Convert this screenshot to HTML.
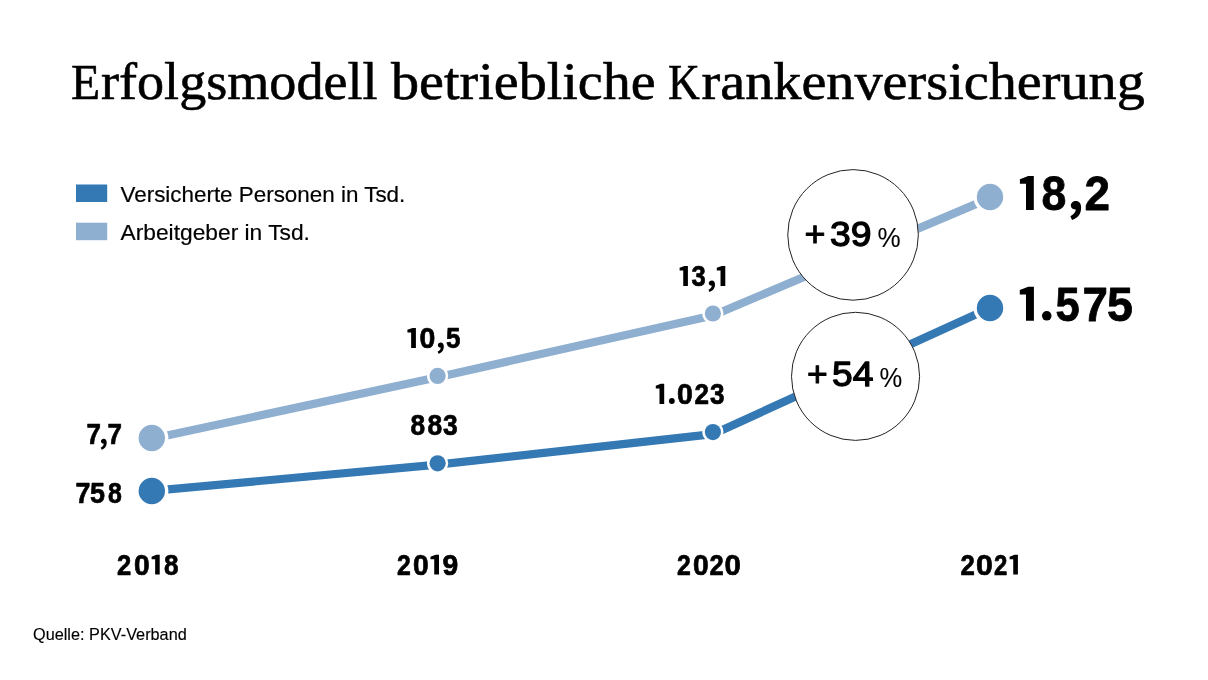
<!DOCTYPE html>
<html><head><meta charset="utf-8"><style>
html,body{margin:0;padding:0;background:#fff;}
body{width:1208px;height:680px;overflow:hidden;}
svg{display:block;will-change:transform;}
</style></head><body>
<svg width="1208" height="680" viewBox="0 0 1208 680">
<rect width="1208" height="680" fill="#fff"/>
<rect x="76" y="184.5" width="31.2" height="17.5" fill="#3579b4"/>
<rect x="76" y="222.7" width="31.2" height="17.5" fill="#8eafd0"/>
<polyline points="151.8,438.8 437.6,377.2 712.9,315.5 990,198.1" fill="none" stroke="#8eafd0" stroke-width="8.2" stroke-linejoin="round"/>
<polyline points="151.8,490.9 437.6,464.6 712.9,434.2 990,308.1" fill="none" stroke="#3579b4" stroke-width="8.2" stroke-linejoin="round"/>
<circle cx="151.8" cy="438" r="16.599999999999998" fill="#fff"/>
<circle cx="151.8" cy="438" r="13.2" fill="#8eafd0"/>
<circle cx="437.6" cy="375.9" r="10.6" fill="#fff"/>
<circle cx="437.6" cy="375.9" r="8.1" fill="#8eafd0"/>
<circle cx="712.9" cy="313.5" r="10.6" fill="#fff"/>
<circle cx="712.9" cy="313.5" r="8.1" fill="#8eafd0"/>
<circle cx="990" cy="197" r="16.599999999999998" fill="#fff"/>
<circle cx="990" cy="197" r="13.2" fill="#8eafd0"/>
<circle cx="151.8" cy="491" r="16.599999999999998" fill="#fff"/>
<circle cx="151.8" cy="491" r="13.2" fill="#3579b4"/>
<circle cx="437.6" cy="463.3" r="10.6" fill="#fff"/>
<circle cx="437.6" cy="463.3" r="8.1" fill="#3579b4"/>
<circle cx="712.9" cy="432.1" r="10.6" fill="#fff"/>
<circle cx="712.9" cy="432.1" r="8.1" fill="#3579b4"/>
<circle cx="990" cy="308" r="16.599999999999998" fill="#fff"/>
<circle cx="990" cy="308" r="13.2" fill="#3579b4"/>
<circle cx="853.05" cy="234.9" r="65.3" fill="#fff" stroke="#222" stroke-width="1"/>
<circle cx="855.55" cy="376.35" r="64.05" fill="#fff" stroke="#222" stroke-width="1"/>
<path d="M411.13,347.90 L415.90,347.90 L415.90,327.90 L412.48,327.90 L407.40,329.79 L407.40,332.46 L411.13,332.46 Z" fill="#000"/>
<path d="M683.24,285.90 L687.90,285.90 L687.90,265.90 L684.56,265.90 L679.60,267.79 L679.60,270.46 L683.24,270.46 Z" fill="#000"/>
<path d="M720.53,285.90 L725.30,285.90 L725.30,265.90 L721.88,265.90 L716.80,267.79 L716.80,270.46 L720.53,270.46 Z" fill="#000"/>
<path d="M659.49,403.90 L664.20,403.90 L664.20,383.80 L660.82,383.80 L655.80,385.70 L655.80,388.38 L659.49,388.38 Z" fill="#000"/>
<path d="M1026.00,210.00 L1033.80,210.00 L1033.80,175.90 L1028.20,175.90 L1019.90,179.13 L1019.90,183.67 L1026.00,183.67 Z" fill="#000"/>
<path d="M1025.99,320.80 L1033.90,320.80 L1033.90,286.80 L1028.22,286.80 L1019.80,290.02 L1019.80,294.55 L1025.99,294.55 Z" fill="#000"/>
<path d="M155.15,574.60 L159.70,574.60 L159.70,554.80 L156.44,554.80 L151.60,556.67 L151.60,559.31 L155.15,559.31 Z" fill="#000"/>
<path d="M434.23,574.60 L439.00,574.60 L439.00,554.80 L435.58,554.80 L430.50,556.67 L430.50,559.31 L434.23,559.31 Z" fill="#000"/>
<path d="M1013.24,574.60 L1017.90,574.60 L1017.90,554.80 L1014.56,554.80 L1009.60,556.67 L1009.60,559.31 L1013.24,559.31 Z" fill="#000"/>
<path d="M103.82,438.70 C105.50,438.70 106.70,440.03 106.70,442.58 C106.70,445.58 105.50,448.47 101.60,449.80 L100.70,447.58 C102.50,446.69 103.58,445.36 103.76,443.69 C102.20,443.69 100.94,442.92 100.94,441.36 C100.94,439.81 102.20,438.70 103.82,438.70 Z" fill="#000"/>
<path d="M440.82,342.60 C442.56,342.60 443.80,343.94 443.80,346.52 C443.80,349.54 442.56,352.46 438.53,353.80 L437.60,351.56 C439.46,350.66 440.58,349.32 440.76,347.64 C439.15,347.64 437.85,346.86 437.85,345.29 C437.85,343.72 439.15,342.60 440.82,342.60 Z" fill="#000"/>
<path d="M711.88,280.60 C713.70,280.60 715.00,281.97 715.00,284.59 C715.00,287.67 713.70,290.63 709.48,292.00 L708.50,289.72 C710.45,288.81 711.62,287.44 711.82,285.73 C710.12,285.73 708.76,284.93 708.76,283.34 C708.76,281.74 710.12,280.60 711.88,280.60 Z" fill="#000"/>
<path d="M1075.96,201.10 C1078.96,201.10 1081.10,203.36 1081.10,207.68 C1081.10,212.76 1078.96,217.64 1072.01,219.90 L1070.40,216.14 C1073.61,214.64 1075.54,212.38 1075.86,209.56 C1073.08,209.56 1070.83,208.24 1070.83,205.61 C1070.83,202.98 1073.08,201.10 1075.96,201.10 Z" fill="#000"/>
<circle cx="671.85" cy="401.0" r="2.9" fill="#000"/>
<circle cx="1046.75" cy="315.8" r="4.8" fill="#000"/>
<text x="71.00" y="99" font-family='"Liberation Serif",serif' font-weight="normal" font-size="50.5" fill="#000" textLength="29.13" lengthAdjust="spacingAndGlyphs" stroke="#000" stroke-width="0.6" stroke-linejoin="round">E</text>
<text x="101.00" y="99" font-family='"Liberation Serif",serif' font-weight="normal" font-size="53.3" fill="#000" textLength="276.60" lengthAdjust="spacingAndGlyphs" stroke="#000" stroke-width="0.6" stroke-linejoin="round">rfolgsmodell</text>
<text x="391.00" y="99" font-family='"Liberation Serif",serif' font-weight="normal" font-size="53.3" fill="#000" textLength="264.63" lengthAdjust="spacingAndGlyphs" stroke="#000" stroke-width="0.6" stroke-linejoin="round">betriebliche</text>
<text x="668.00" y="99" font-family='"Liberation Serif",serif' font-weight="normal" font-size="50.5" fill="#000" textLength="31.87" lengthAdjust="spacingAndGlyphs" stroke="#000" stroke-width="0.6" stroke-linejoin="round">K</text>
<text x="701.50" y="99" font-family='"Liberation Serif",serif' font-weight="normal" font-size="53.3" fill="#000" textLength="443.34" lengthAdjust="spacingAndGlyphs" stroke="#000" stroke-width="0.6" stroke-linejoin="round">rankenversicherung</text>
<text x="120.50" y="201.8" font-family='"Liberation Sans",sans-serif' font-weight="normal" font-size="22.5" fill="#000" textLength="284.79" lengthAdjust="spacingAndGlyphs" stroke="#000" stroke-width="0.2" stroke-linejoin="round">Versicherte Personen in Tsd.</text>
<text x="120.50" y="239.8" font-family='"Liberation Sans",sans-serif' font-weight="normal" font-size="22.5" fill="#000" textLength="189.43" lengthAdjust="spacingAndGlyphs" stroke="#000" stroke-width="0.2" stroke-linejoin="round">Arbeitgeber in Tsd.</text>
<text x="86.50" y="444.0" font-family='"Liberation Sans",sans-serif' font-weight="bold" font-size="29.2" fill="#000" textLength="14.43" lengthAdjust="spacingAndGlyphs" stroke="#000" stroke-width="0.7" stroke-linejoin="round">7</text>
<text x="107.50" y="444.0" font-family='"Liberation Sans",sans-serif' font-weight="bold" font-size="29.2" fill="#000" textLength="14.43" lengthAdjust="spacingAndGlyphs" stroke="#000" stroke-width="0.7" stroke-linejoin="round">7</text>
<text x="75.50" y="502.8" font-family='"Liberation Sans",sans-serif' font-weight="bold" font-size="29.2" fill="#000" textLength="14.88" lengthAdjust="spacingAndGlyphs" stroke="#000" stroke-width="0.7" stroke-linejoin="round">7</text>
<text x="90.00" y="502.8" font-family='"Liberation Sans",sans-serif' font-weight="bold" font-size="29.2" fill="#000" textLength="14.96" lengthAdjust="spacingAndGlyphs" stroke="#000" stroke-width="0.7" stroke-linejoin="round">5</text>
<text x="108.00" y="502.8" font-family='"Liberation Sans",sans-serif' font-weight="bold" font-size="29.2" fill="#000" textLength="13.83" lengthAdjust="spacingAndGlyphs" stroke="#000" stroke-width="0.7" stroke-linejoin="round">8</text>
<text x="410.50" y="435.4" font-family='"Liberation Sans",sans-serif' font-weight="bold" font-size="29.2" fill="#000" textLength="14.62" lengthAdjust="spacingAndGlyphs" stroke="#000" stroke-width="0.7" stroke-linejoin="round">8</text>
<text x="427.50" y="435.4" font-family='"Liberation Sans",sans-serif' font-weight="bold" font-size="29.2" fill="#000" textLength="14.67" lengthAdjust="spacingAndGlyphs" stroke="#000" stroke-width="0.7" stroke-linejoin="round">8</text>
<text x="443.00" y="435.4" font-family='"Liberation Sans",sans-serif' font-weight="bold" font-size="29.2" fill="#000" textLength="14.72" lengthAdjust="spacingAndGlyphs" stroke="#000" stroke-width="0.7" stroke-linejoin="round">3</text>
<text x="677.00" y="574.5" font-family='"Liberation Sans",sans-serif' font-weight="bold" font-size="29" fill="#000" textLength="13.81" lengthAdjust="spacingAndGlyphs" stroke="#000" stroke-width="0.7" stroke-linejoin="round">2</text>
<text x="693.00" y="574.5" font-family='"Liberation Sans",sans-serif' font-weight="bold" font-size="29" fill="#000" textLength="15.71" lengthAdjust="spacingAndGlyphs" stroke="#000" stroke-width="0.7" stroke-linejoin="round">0</text>
<text x="709.50" y="574.5" font-family='"Liberation Sans",sans-serif' font-weight="bold" font-size="29" fill="#000" textLength="14.23" lengthAdjust="spacingAndGlyphs" stroke="#000" stroke-width="0.7" stroke-linejoin="round">2</text>
<text x="724.50" y="574.5" font-family='"Liberation Sans",sans-serif' font-weight="bold" font-size="29" fill="#000" textLength="16.39" lengthAdjust="spacingAndGlyphs" stroke="#000" stroke-width="0.7" stroke-linejoin="round">0</text>
<text x="419.50" y="347.9" font-family='"Liberation Sans",sans-serif' font-weight="bold" font-size="29.2" fill="#000" textLength="15.83" lengthAdjust="spacingAndGlyphs" stroke="#000" stroke-width="0.7" stroke-linejoin="round">0</text>
<text x="446.00" y="347.9" font-family='"Liberation Sans",sans-serif' font-weight="bold" font-size="29.2" fill="#000" textLength="14.45" lengthAdjust="spacingAndGlyphs" stroke="#000" stroke-width="0.7" stroke-linejoin="round">5</text>
<text x="691.50" y="285.9" font-family='"Liberation Sans",sans-serif' font-weight="bold" font-size="29.2" fill="#000" textLength="14.24" lengthAdjust="spacingAndGlyphs" stroke="#000" stroke-width="0.7" stroke-linejoin="round">3</text>
<text x="677.00" y="403.9" font-family='"Liberation Sans",sans-serif' font-weight="bold" font-size="29.2" fill="#000" textLength="15.83" lengthAdjust="spacingAndGlyphs" stroke="#000" stroke-width="0.7" stroke-linejoin="round">0</text>
<text x="694.50" y="403.9" font-family='"Liberation Sans",sans-serif' font-weight="bold" font-size="29.2" fill="#000" textLength="14.51" lengthAdjust="spacingAndGlyphs" stroke="#000" stroke-width="0.7" stroke-linejoin="round">2</text>
<text x="710.00" y="403.9" font-family='"Liberation Sans",sans-serif' font-weight="bold" font-size="29.2" fill="#000" textLength="14.53" lengthAdjust="spacingAndGlyphs" stroke="#000" stroke-width="0.7" stroke-linejoin="round">3</text>
<text x="1041.50" y="210.0" font-family='"Liberation Sans",sans-serif' font-weight="bold" font-size="48.5" fill="#000" textLength="24.83" lengthAdjust="spacingAndGlyphs" stroke="#000" stroke-width="0.8" stroke-linejoin="round">8</text>
<text x="1084.50" y="210.0" font-family='"Liberation Sans",sans-serif' font-weight="bold" font-size="48.5" fill="#000" textLength="25.51" lengthAdjust="spacingAndGlyphs" stroke="#000" stroke-width="0.8" stroke-linejoin="round">2</text>
<text x="1055.50" y="320.8" font-family='"Liberation Sans",sans-serif' font-weight="bold" font-size="48.5" fill="#000" textLength="24.20" lengthAdjust="spacingAndGlyphs" stroke="#000" stroke-width="0.8" stroke-linejoin="round">5</text>
<text x="1082.50" y="320.8" font-family='"Liberation Sans",sans-serif' font-weight="bold" font-size="48.5" fill="#000" textLength="25.43" lengthAdjust="spacingAndGlyphs" stroke="#000" stroke-width="0.8" stroke-linejoin="round">7</text>
<text x="1107.00" y="320.8" font-family='"Liberation Sans",sans-serif' font-weight="bold" font-size="48.5" fill="#000" textLength="25.90" lengthAdjust="spacingAndGlyphs" stroke="#000" stroke-width="0.8" stroke-linejoin="round">5</text>
<text x="117.00" y="574.5" font-family='"Liberation Sans",sans-serif' font-weight="bold" font-size="29" fill="#000" textLength="14.23" lengthAdjust="spacingAndGlyphs" stroke="#000" stroke-width="0.7" stroke-linejoin="round">2</text>
<text x="134.00" y="574.5" font-family='"Liberation Sans",sans-serif' font-weight="bold" font-size="29" fill="#000" textLength="15.71" lengthAdjust="spacingAndGlyphs" stroke="#000" stroke-width="0.7" stroke-linejoin="round">0</text>
<text x="164.00" y="574.5" font-family='"Liberation Sans",sans-serif' font-weight="bold" font-size="29" fill="#000" textLength="14.53" lengthAdjust="spacingAndGlyphs" stroke="#000" stroke-width="0.7" stroke-linejoin="round">8</text>
<text x="397.00" y="574.5" font-family='"Liberation Sans",sans-serif' font-weight="bold" font-size="29" fill="#000" textLength="13.81" lengthAdjust="spacingAndGlyphs" stroke="#000" stroke-width="0.7" stroke-linejoin="round">2</text>
<text x="413.00" y="574.5" font-family='"Liberation Sans",sans-serif' font-weight="bold" font-size="29" fill="#000" textLength="15.71" lengthAdjust="spacingAndGlyphs" stroke="#000" stroke-width="0.7" stroke-linejoin="round">0</text>
<text x="442.50" y="574.5" font-family='"Liberation Sans",sans-serif' font-weight="bold" font-size="29" fill="#000" textLength="15.76" lengthAdjust="spacingAndGlyphs" stroke="#000" stroke-width="0.7" stroke-linejoin="round">9</text>
<text x="960.50" y="574.5" font-family='"Liberation Sans",sans-serif' font-weight="bold" font-size="29" fill="#000" textLength="14.35" lengthAdjust="spacingAndGlyphs" stroke="#000" stroke-width="0.7" stroke-linejoin="round">2</text>
<text x="976.00" y="574.5" font-family='"Liberation Sans",sans-serif' font-weight="bold" font-size="29" fill="#000" textLength="16.84" lengthAdjust="spacingAndGlyphs" stroke="#000" stroke-width="0.7" stroke-linejoin="round">0</text>
<text x="994.00" y="574.5" font-family='"Liberation Sans",sans-serif' font-weight="bold" font-size="29" fill="#000" textLength="13.33" lengthAdjust="spacingAndGlyphs" stroke="#000" stroke-width="0.7" stroke-linejoin="round">2</text>
<text x="804.50" y="245.6" font-family='"Liberation Sans",sans-serif' font-weight="normal" font-size="35.9" fill="#000" textLength="21.00" lengthAdjust="spacingAndGlyphs" stroke="#000" stroke-width="1.0" stroke-linejoin="round">+</text>
<text x="830.00" y="245.9" font-family='"Liberation Sans",sans-serif' font-weight="normal" font-size="35.9" fill="#000" textLength="41.39" lengthAdjust="spacingAndGlyphs" stroke="#000" stroke-width="1.3" stroke-linejoin="round">39</text>
<text x="877.50" y="246.7" font-family='"Liberation Sans",sans-serif' font-weight="normal" font-size="27" fill="#000" textLength="23.15" lengthAdjust="spacingAndGlyphs" stroke="#000" stroke-width="0.1" stroke-linejoin="round">%</text>
<text x="807.00" y="385.6" font-family='"Liberation Sans",sans-serif' font-weight="normal" font-size="35.9" fill="#000" textLength="20.76" lengthAdjust="spacingAndGlyphs" stroke="#000" stroke-width="1.0" stroke-linejoin="round">+</text>
<text x="832.00" y="386.0" font-family='"Liberation Sans",sans-serif' font-weight="normal" font-size="35.9" fill="#000" textLength="41.38" lengthAdjust="spacingAndGlyphs" stroke="#000" stroke-width="1.3" stroke-linejoin="round">54</text>
<text x="879.50" y="386.7" font-family='"Liberation Sans",sans-serif' font-weight="normal" font-size="27" fill="#000" textLength="22.73" lengthAdjust="spacingAndGlyphs" stroke="#000" stroke-width="0.1" stroke-linejoin="round">%</text>
<text x="33.00" y="639.7" font-family='"Liberation Sans",sans-serif' font-weight="normal" font-size="17.2" fill="#000" textLength="153.77" lengthAdjust="spacingAndGlyphs" stroke="#000" stroke-width="0.15" stroke-linejoin="round">Quelle: PKV-Verband</text>
</svg>
</body></html>
